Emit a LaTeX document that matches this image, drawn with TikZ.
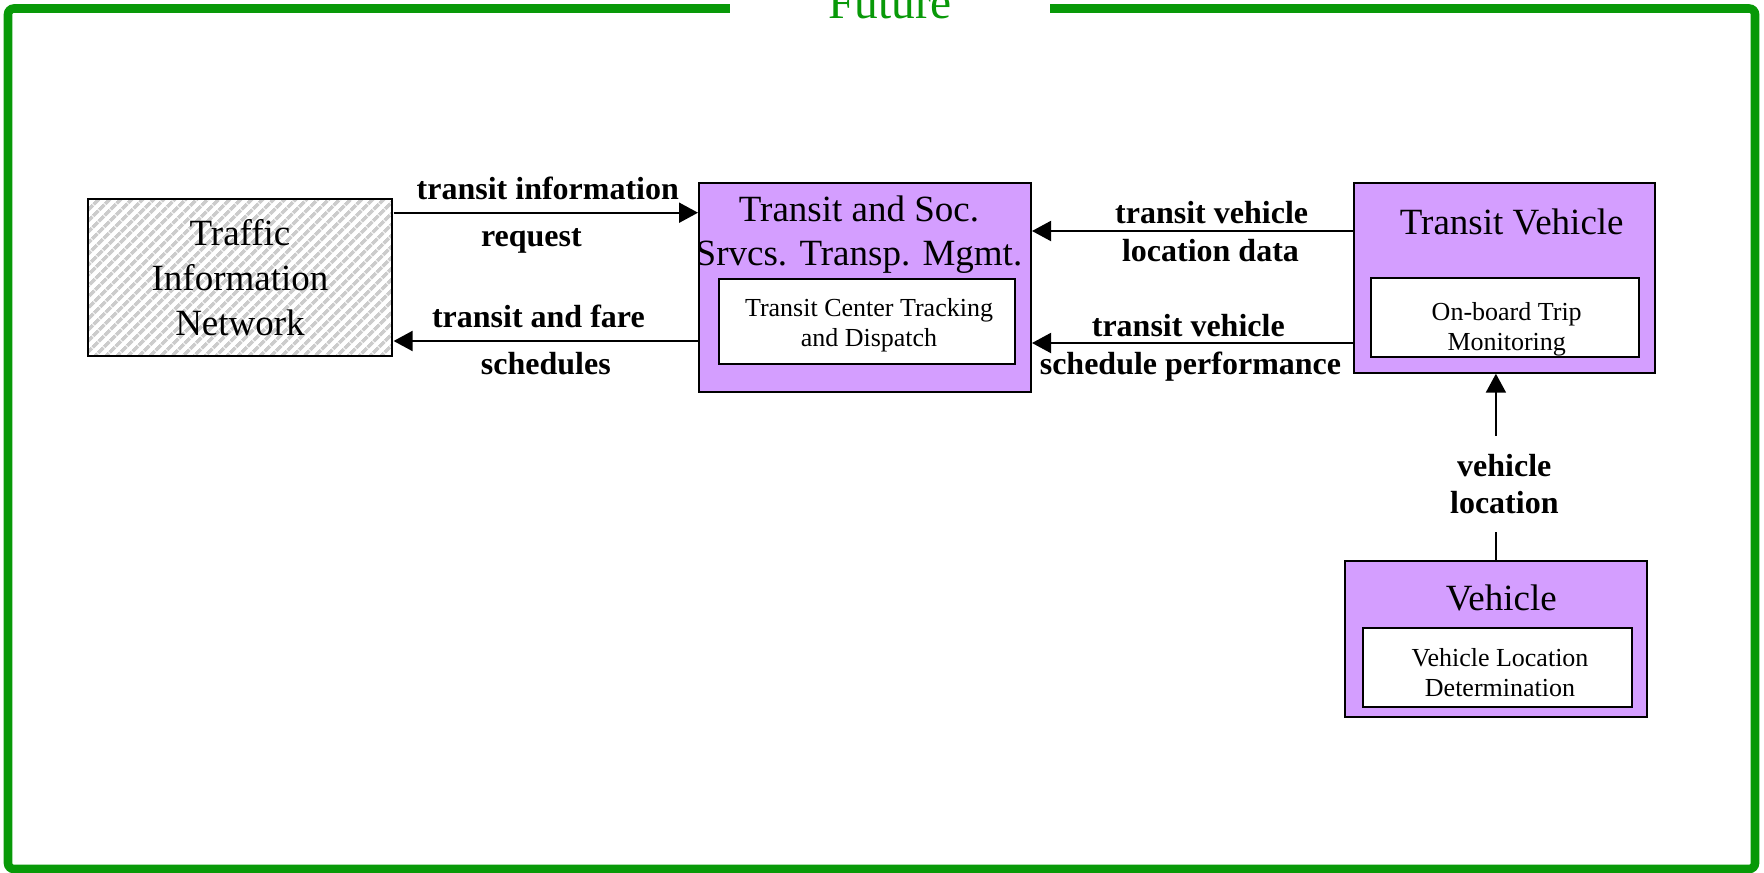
\documentclass[tikz,border=0pt]{standalone}
\usepackage{fontspec}
\setmainfont{Liberation Serif}
\usetikzlibrary{arrows.meta,patterns.meta}
\definecolor{sysviolet}{RGB}{212,158,255}
\definecolor{futgreen}{RGB}{8,153,8}
\begin{document}
\begin{tikzpicture}[x=0.5pt,y=-0.5pt,
  sysbox/.style={draw,line width=1pt,fill=sysviolet},
  inbox/.style={draw,line width=1pt,fill=white},
  title/.style={font=\fontsize{18.5}{22}\selectfont,align=center,inner sep=0pt},
  intext/.style={font=\fontsize{13}{15}\selectfont,align=center,inner sep=0pt},
  lbl/.style={font=\fontsize{16}{18.85}\selectfont\bfseries,anchor=base,inner sep=0pt},
  flow/.style={line width=1pt,-{Triangle[length=9.5pt,width=10pt]}}]
  \useasboundingbox (0,0) rectangle (1764,872);
  % frame
  \draw[futgreen,line width=4.3pt,rounded corners=3pt] (8,8.5) rectangle (1755,869);
  \node (future) at (890,18.3) [anchor=base,fill=white,minimum width=160pt,
    text=futgreen,font=\fontsize{23.7}{28}\selectfont] {Future};
  % nodes
  \node (tin) at (240,277.5) [draw,line width=1pt,preaction={fill=white},
    pattern={Lines[angle=45,distance=4pt,line width=1.9pt]},pattern color=gray!40,
    minimum width=151.7pt,minimum height=78.2pt,align=center,
    font=\fontsize{18.5}{22.5}\selectfont] {Traffic\\Information\\Network};
  \node (tsm) at (865,287.5) [sysbox,minimum width=166pt,minimum height=104.2pt] {};
  \node (tsmt) at (859,235) [title] {Transit and Soc.\\Srvcs. Transp. Mgmt.};
  \node (tsmi) at (867,321.7) [inbox,minimum width=147.9pt,minimum height=42.7pt] {};
  \node (tsmx) at (869,325.6) [intext] {Transit Center Tracking\\and Dispatch};
  \node (tv) at (1504.7,278) [sysbox,minimum width=150.4pt,minimum height=94.7pt] {};
  \node (tvt) at (1511.7,234) [title,anchor=base] {Transit Vehicle};
  \node (tvi) at (1505,317.5) [inbox,minimum width=134pt,minimum height=39.2pt] {};
  \node (tvx) at (1506.7,329) [intext] {On-board Trip\\Monitoring};
  \node (veh) at (1495.9,638.7) [sysbox,minimum width=150.9pt,minimum height=78pt] {};
  \node (veht) at (1501.3,610.7) [title,anchor=base] {Vehicle};
  \node (vehi) at (1497.2,667.5) [inbox,minimum width=134.5pt,minimum height=39.2pt] {};
  \node (vehx) at (1500,672.8) [intext] {Vehicle Location\\Determination};
  % flows
  \draw[flow] (tin.east |- 0,212.7) -- (tsm.west |- 0,212.7)
    node[lbl,midway,xshift=1pt,yshift=6.4pt] {transit information}
    node[lbl,midway,xshift=-7.2pt,yshift=-16.7pt] {request};
  \draw[flow] (tsm.west |- 0,341) -- (tin.east |- 0,341)
    node[lbl,midway,xshift=-3.7pt,yshift=6.85pt] {transit and fare}
    node[lbl,midway,yshift=-16.5pt] {schedules};
  \draw[flow] (tv.west |- 0,231) -- (tsm.east |- 0,231)
    node[lbl,midway,xshift=9.5pt,yshift=3.85pt] {transit vehicle}
    node[lbl,midway,xshift=8.9pt,yshift=-15.35pt] {location data};
  \draw[flow] (tv.west |- 0,343) -- (tsm.east |- 0,343)
    node[lbl,midway,xshift=-2.2pt,yshift=3.15pt] {transit vehicle}
    node[lbl,midway,xshift=-1.1pt,yshift=-15.5pt] {schedule performance};
  \node (vl) at (1504.3,484) [lbl,anchor=center,align=center,minimum height=48pt] {vehicle\\location};
  \draw[line width=1pt] (veh.north) -- (veh.north |- vl.south);
  \draw[flow] (veh.north |- vl.north) -- (veh.north |- tv.south);
\end{tikzpicture}
\end{document}
